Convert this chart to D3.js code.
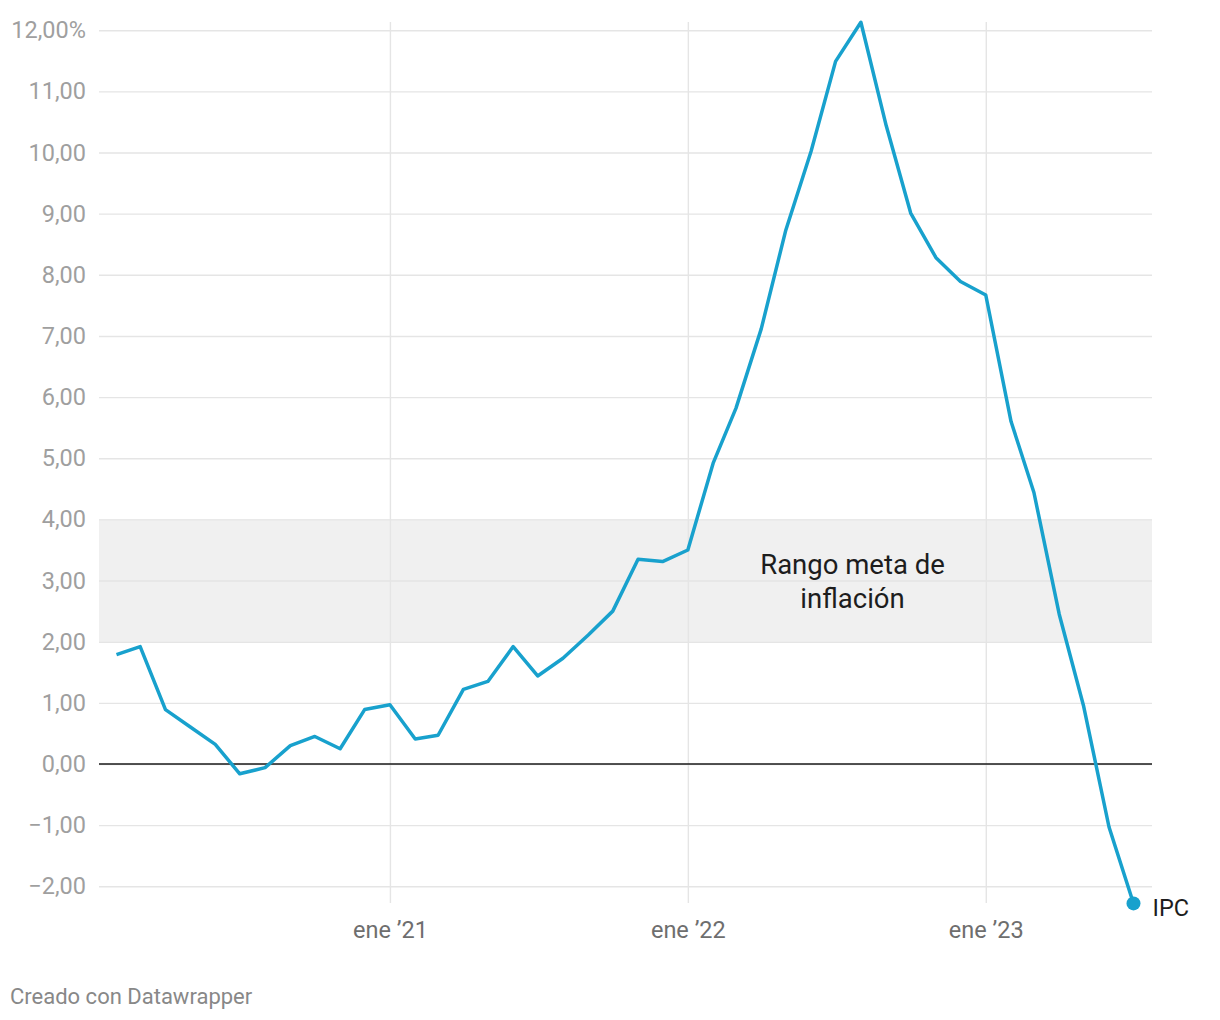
<!DOCTYPE html>
<html>
<head>
<meta charset="utf-8">
<script src="https://cdn.jsdelivr.net/npm/d3@7"></script>
<style>
  html, body { margin: 0; padding: 0; background: #fff; }
  svg { display: block; font-family: Roboto, "Noto Sans", sans-serif; }
</style>
</head>
<body>
<svg id="chart" width="1220" height="1020"></svg>
<script>
// ---- data ----
const months = [
  "2020-02","2020-03","2020-04","2020-05","2020-06","2020-07","2020-08","2020-09","2020-10","2020-11","2020-12",
  "2021-01","2021-02","2021-03","2021-04","2021-05","2021-06","2021-07","2021-08","2021-09","2021-10","2021-11","2021-12",
  "2022-01","2022-02","2022-03","2022-04","2022-05","2022-06","2022-07","2022-08","2022-09","2022-10","2022-11","2022-12",
  "2023-01","2023-02","2023-03","2023-04","2023-05","2023-06","2023-07"
];
const ipc = [
  1.79, 1.92, 0.89, 0.61, 0.32, -0.16, -0.06, 0.30, 0.45, 0.25, 0.89,
  0.97, 0.41, 0.47, 1.22, 1.35, 1.92, 1.44, 1.73, 2.11, 2.50, 3.35, 3.31,
  3.50, 4.92, 5.82, 7.12, 8.73, 10.02, 11.49, 12.13, 10.44, 9.01, 8.28, 7.89,
  7.67, 5.60, 4.44, 2.45, 0.94, -1.03, -2.28
];
const seriesName = "IPC";
const yTicks = [-2, -1, 0, 1, 2, 3, 4, 5, 6, 7, 8, 9, 10, 11, 12];
const yTickLabels = ["\u22122,00","\u22121,00","0,00","1,00","2,00","3,00","4,00","5,00","6,00","7,00","8,00","9,00","10,00","11,00","12,00%"];
const xTickDates = ["2021-01","2022-01","2023-01"];
const xTickLabels = ["ene \u201921","ene \u201922","ene \u201923"];
const targetRange = [2, 4];
const targetLabel = ["Rango meta de", "inflación"];
const credit = "Creado con Datawrapper";

// ---- layout ----
const svg = d3.select("#chart");
const parse = d3.timeParse("%Y-%m");
const data = months.map((m, i) => ({ date: parse(m), value: ipc[i] }));

const plotLeft = 99, plotRight = 1152;
const x = d3.scaleTime()
  .domain([parse(months[0]), parse(months[months.length - 1])])
  .range([116.5, 1133.5]);
const y = d3.scaleLinear().domain([-2, 12]).range([886.3, 30.2]);

const blue = "#18a1cd";

// target band
svg.append("rect")
  .attr("x", plotLeft)
  .attr("width", plotRight - plotLeft)
  .attr("y", y(targetRange[1]))
  .attr("height", y(targetRange[0]) - y(targetRange[1]))
  .attr("fill", "#f0f0f0");

// y axis with gridlines
const yAxis = d3.axisLeft(y)
  .tickValues(yTicks)
  .tickFormat((d, i) => yTickLabels[i])
  .tickSize(-(plotRight - plotLeft))
  .tickPadding(13);
const gy = svg.append("g").attr("transform", `translate(${plotLeft},0)`).call(yAxis);
gy.select(".domain").remove();
gy.selectAll(".tick line").attr("stroke", "#e5e5e5").attr("stroke-width", 1.4);
gy.selectAll(".tick text")
  .attr("fill", "#9f9f9f")
  .style("font-size", "23.5px")
  .style("font-family", "Roboto, sans-serif");

// x axis with vertical gridlines
const xBase = 903, xTop = 22;
const xAxis = d3.axisBottom(x)
  .tickValues(xTickDates.map(parse))
  .tickFormat((d, i) => xTickLabels[i])
  .tickSize(-(xBase - xTop))
  .tickPadding(18);
const gx = svg.append("g").attr("transform", `translate(0,${xBase})`).call(xAxis);
gx.select(".domain").remove();
gx.selectAll(".tick line").attr("stroke", "#e5e5e5").attr("stroke-width", 1.4);
gx.selectAll(".tick text")
  .attr("fill", "#6e6e6e")
  .style("font-size", "23.5px")
  .style("font-family", "Roboto, sans-serif");

// zero baseline
svg.append("line")
  .attr("x1", plotLeft).attr("x2", plotRight)
  .attr("y1", y(0)).attr("y2", y(0))
  .attr("stroke", "#1a1a1a").attr("stroke-width", 1.6);

// band label
const bandText = svg.append("text")
  .attr("text-anchor", "middle")
  .attr("fill", "#1d1d1d")
  .style("font-size", "27.5px");
targetLabel.forEach((t, i) => {
  bandText.append("tspan").attr("x", 852.5).attr("y", 574 + i * 34).text(t);
});

// series line
const line = d3.line().x(d => x(d.date)).y(d => y(d.value));
svg.append("path")
  .datum(data)
  .attr("fill", "none")
  .attr("stroke", blue)
  .attr("stroke-width", 3.5)
  .attr("stroke-linejoin", "round")
  .attr("d", line);

// end dot + label
const last = data[data.length - 1];
svg.append("circle")
  .attr("cx", x(last.date)).attr("cy", y(last.value))
  .attr("r", 7).attr("fill", blue);
svg.append("text")
  .attr("x", x(last.date) + 19)
  .attr("y", y(last.value) + 13)
  .attr("fill", "#1d1d1d")
  .style("font-size", "23.5px")
  .text(seriesName);

// credit
svg.append("text")
  .attr("x", 10).attr("y", 1004)
  .attr("fill", "#888888")
  .style("font-size", "22px")
  .text(credit);
</script>
</body>
</html>
